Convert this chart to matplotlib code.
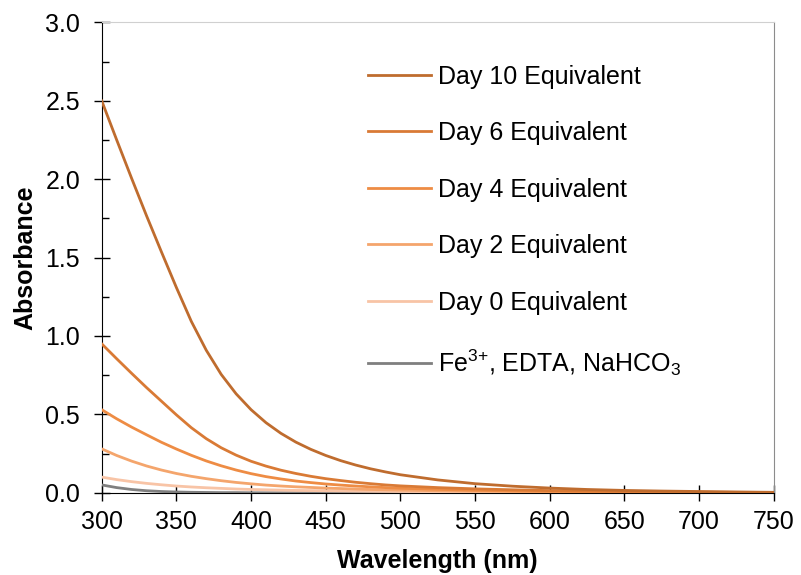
import numpy as np
import matplotlib.pyplot as plt
from matplotlib.ticker import MultipleLocator

plt.rcParams['font.family'] = ['Liberation Sans', 'DejaVu Sans']
plt.rcParams['mathtext.default'] = 'regular'

wl = [300, 310, 320, 330, 340, 350, 360, 370, 380, 390, 400, 410, 420, 430, 440,
      450, 460, 470, 480, 490, 500, 525, 550, 575, 600, 625, 650, 675, 700, 725, 750]

day10 = [2.50, 2.251, 2.006, 1.767, 1.536, 1.309, 1.093, 0.909, 0.755, 0.631, 0.530,
         0.447, 0.379, 0.323, 0.277, 0.238, 0.205, 0.177, 0.153, 0.133, 0.115,
         0.082, 0.058, 0.042, 0.030, 0.021, 0.015, 0.011, 0.008, 0.005, 0.003]
day6 = [0.95, 0.855, 0.762, 0.671, 0.584, 0.497, 0.415, 0.345, 0.287, 0.240, 0.201,
        0.170, 0.144, 0.123, 0.105, 0.090, 0.078, 0.067, 0.058, 0.050, 0.044,
        0.033, 0.025, 0.019, 0.014, 0.011, 0.008, 0.006, 0.004, 0.003, 0.002]
day4 = [0.53, 0.472, 0.419, 0.370, 0.322, 0.279, 0.239, 0.203, 0.172, 0.145, 0.122,
        0.103, 0.088, 0.075, 0.065, 0.056, 0.049, 0.043, 0.038, 0.033, 0.029,
        0.022, 0.016, 0.012, 0.009, 0.007, 0.005, 0.004, 0.003, 0.002, 0.001]
day2 = [0.28, 0.238, 0.202, 0.171, 0.145, 0.123, 0.105, 0.090, 0.077, 0.066, 0.057,
        0.049, 0.043, 0.038, 0.034, 0.030, 0.027, 0.024, 0.021, 0.019, 0.017,
        0.013, 0.010, 0.008, 0.006, 0.005, 0.004, 0.003, 0.002, 0.002, 0.001]
day0 = [0.10, 0.084, 0.071, 0.060, 0.051, 0.043, 0.037, 0.032, 0.028, 0.024, 0.021,
        0.019, 0.017, 0.015, 0.014, 0.013, 0.012, 0.011, 0.010, 0.009, 0.008,
        0.007, 0.006, 0.005, 0.004, 0.003, 0.003, 0.002, 0.002, 0.001, 0.001]
blank = [0.05, 0.033, 0.021, 0.013, 0.008, 0.005, 0.003, 0.002, 0.001, 0.001, 0.0,
         0.0, 0.0, 0.0, 0.0, 0.0, 0.0, 0.0, 0.0, 0.0, 0.0,
         0.0, 0.0, 0.0, 0.0, 0.0, 0.0, 0.0, 0.0, 0.0, 0.0]

series = [day10, day6, day4, day2, day0, blank]
labels = ['Day 10 Equivalent', 'Day 6 Equivalent', 'Day 4 Equivalent',
          'Day 2 Equivalent', 'Day 0 Equivalent', r'Fe$^{3{+}}$, EDTA, NaHCO$_3$']
colors = ['#BF6C2E', '#D97A35', '#EE8C44', '#F4A56C', '#F8C4A6', '#7F7F7F']

fig = plt.figure(figsize=(8.01, 5.75), dpi=100)
ax = fig.add_axes([0.127, 0.143, 0.839, 0.818])

# draw lightest first so the darker curves sit on top
for i in range(len(series) - 1, -1, -1):
    ax.plot(wl, series[i], color=colors[i], lw=2.0, label=labels[i], zorder=3 + (len(series) - i))

ax.set_xlim(300, 750)
ax.set_ylim(0, 3.0)
ax.xaxis.set_major_locator(MultipleLocator(50))
ax.yaxis.set_major_locator(MultipleLocator(0.5))
ax.yaxis.set_minor_locator(MultipleLocator(0.25))
ax.yaxis.set_major_formatter(plt.FormatStrFormatter('%.1f'))
ax.tick_params(axis='both', which='major', direction='inout', length=11, width=1,
               labelsize=18)
ax.tick_params(axis='y', which='major', pad=10)
ax.tick_params(axis='x', which='major', pad=7)
ax.tick_params(axis='y', which='minor', direction='in', length=5, width=1)

ax.spines['left'].set_color('black')
ax.spines['bottom'].set_color('black')
ax.spines['top'].set_color('#D0D0D0')
ax.spines['right'].set_color('#8C8C8C')

ax.set_xlabel('Wavelength (nm)', fontsize=18, fontweight='bold', labelpad=11)
ax.set_ylabel('Absorbance', fontsize=18, fontweight='bold', labelpad=6)

handles, labs = ax.get_legend_handles_labels()
ax.legend(handles[::-1], labs[::-1], loc='upper left', bbox_to_anchor=(0.363, 0.958),
          frameon=False, fontsize=18, handlelength=2.5, handletextpad=0.3,
          labelspacing=1.3)

fig.savefig('out.png', dpi=100)
